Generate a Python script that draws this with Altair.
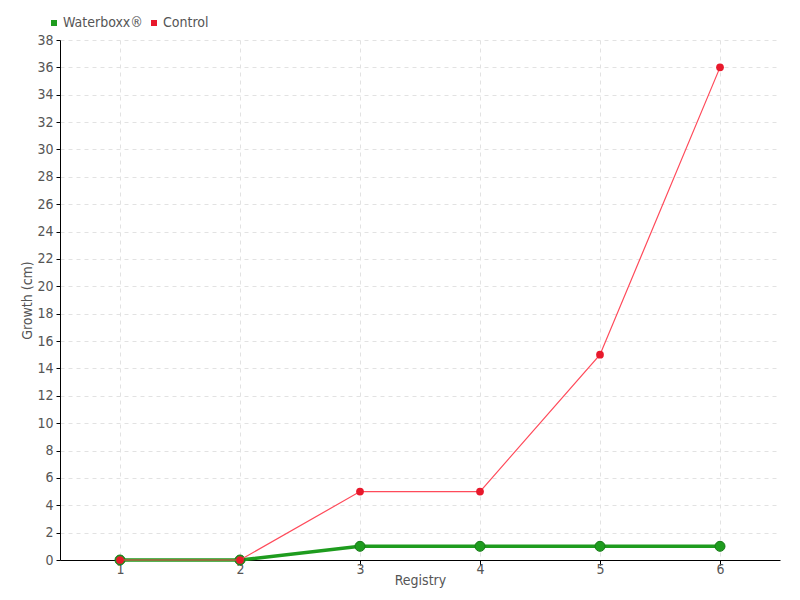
import altair as alt
import pandas as pd

registry = [1, 2, 3, 4, 5, 6]
waterboxx = [0, 0, 1, 1, 1, 1]
control = [0, 0, 5, 5, 15, 36]
series = ["Waterboxx®", "Control"]
colors = ["#1e9c1e", "#e8192c"]

rows = []
for r, v in zip(registry, waterboxx):
    rows.append({"Registry": r, "Growth": v, "Series": series[0]})
for r, v in zip(registry, control):
    rows.append({"Registry": r, "Growth": v, "Series": series[1]})
df = pd.DataFrame(rows)

FONT = "Liberation Sans Narrow, DejaVu Sans Condensed, sans-serif"

x = alt.X("Registry:O", title="Registry",
          scale=alt.Scale(type="point", padding=0.5),
          axis=alt.Axis(labelAngle=0, grid=True, gridDash=[4, 4], gridColor="#e2e2e2",
                        domainColor="#000000", tickColor="#000000", tickSize=5,
                        labelColor="#555555", titleColor="#555555", labelFontSize=14,
                        titleFontSize=14, titleFontWeight="normal", labelFont=FONT, titleFont=FONT,
                        labelPadding=-3, titlePadding=-3))
y = alt.Y("Growth:Q", title="Growth (cm)",
          scale=alt.Scale(domain=[0, 38], nice=False),
          axis=alt.Axis(values=list(range(0, 39, 2)), grid=True, gridDash=[4, 4], gridColor="#e2e2e2",
                        domainColor="#000000", tickColor="#000000", tickSize=4,
                        labelColor="#555555", titleColor="#555555", labelFontSize=14,
                        titleFontSize=14, titleFontWeight="normal", labelFont=FONT, titleFont=FONT,
                        labelPadding=3, titleX=-26))
color = alt.Color("Series:N", scale=alt.Scale(domain=series, range=colors),
                  legend=alt.Legend(title=None, orient="none", legendX=-13, legendY=-24,
                                    direction="horizontal", symbolType="square", symbolSize=36,
                                    symbolStrokeWidth=0,
                                    labelFontSize=14, labelColor="#555555", labelFont=FONT,
                                    columnPadding=4, labelOffset=2))

base = alt.Chart(df)
wb = base.transform_filter(alt.datum.Series == series[0])
ct = base.transform_filter(alt.datum.Series == series[1])

green_line = wb.mark_line(color=colors[0], strokeWidth=3.5).encode(x=x, y=y)
green_pts = wb.mark_point(filled=True, size=100, fill=colors[0], stroke="#167a16", strokeWidth=1, opacity=1).encode(x=x, y=y, color=color)
red_line = ct.mark_line(color="#ff4a5a", strokeWidth=1.2).encode(x=x, y=y)
red_pts = ct.mark_point(filled=True, size=60, fill=colors[1], opacity=1).encode(x=x, y=y, color=color)

chart = alt.layer(green_line, green_pts, red_line, red_pts).properties(
    width=720, height=520,
    autosize=alt.AutoSizeParams(type="none"),
    padding={"left": 52, "top": 32, "right": 12, "bottom": 32},
).configure_view(stroke=None)

chart.save("out.html", embed_options={"renderer": "svg", "actions": False})
